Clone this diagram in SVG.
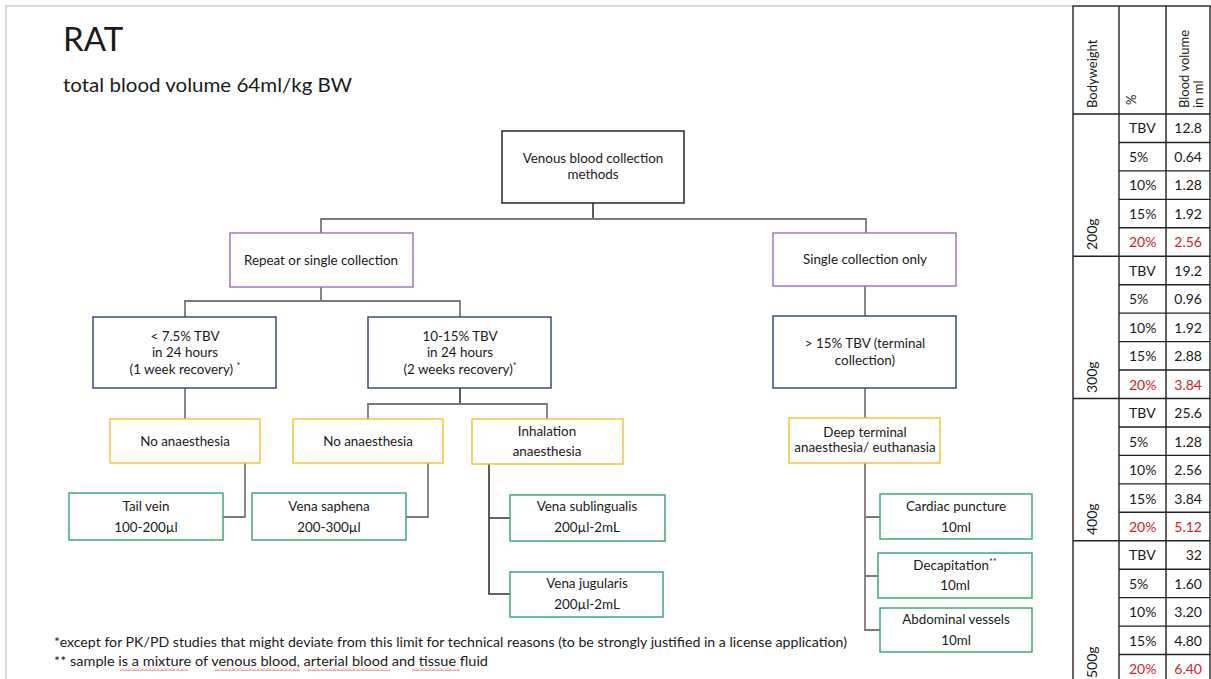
<svg xmlns="http://www.w3.org/2000/svg" width="1211" height="679" viewBox="0 0 1211 679">
<defs>
<style>
text{font-family:Lato,"Open Sans","DejaVu Sans",sans-serif;fill:#1a1a1a}
.n{font-size:13.4px;text-anchor:middle}
.box{fill:#fff;stroke-width:1.4}
.k{stroke:#1a1a1a}
.p{stroke:#9b6cc8}
.b{stroke:#2a3f7a}
.y{stroke:#f5c12e}
.g{stroke:#2ea66a}
.c{fill:none;stroke:#7a7a7a;stroke-width:1.8}
.cd{fill:none;stroke:#333;stroke-width:1.6}
.t{fill:none;stroke:#222;stroke-width:1.4}
.tc{font-size:14px}
.tv{font-size:14px;text-anchor:end}
.red{fill:#d42027}
.h{font-size:13px}
.fn{font-size:13px;font-family:Lato,"Liberation Sans",sans-serif}
.sup{font-size:9px}
</style>
<pattern id="sq" width="4" height="3" patternUnits="userSpaceOnUse">
<path d="M0,2.5 L2,0.5 L4,2.5" fill="none" stroke="#e03030" stroke-width="0.8"/>
</pattern>
</defs>
<rect width="1211" height="679" fill="#fff"/>
<path d="M6,679 V6 H1073" fill="none" stroke="#d0d0d0" stroke-width="1.5"/>

<g id="title">
<text x="63" y="51" style="font-size:33px">RAT</text>
<text x="63" y="92" style="font-size:20px" textLength="289" lengthAdjust="spacingAndGlyphs">total blood volume 64ml/kg BW</text>
</g>

<g id="connectors">
<path class="cd" d="M593,203 V219"/>
<path class="c" d="M321,233 V219 H866 V233"/>
<path class="c" d="M321,287 V301"/>
<path class="c" d="M185,317 V301 H460 V317"/>
<path class="c" d="M865,286 V316"/>
<path class="c" d="M185,388 V419"/>
<path class="cd" d="M460,388 V404"/>
<path class="c" d="M368,419 V404 H547 V419"/>
<path class="c" d="M245,463 V517 H223"/>
<path class="c" d="M428,463 V517 H406"/>
<path class="cd" d="M489,464 V594 H510 M489,518 H510"/>
<path class="c" d="M865,388 V418"/>
<path class="c" d="M865,463 V630 H880 M865,517 H880 M865,576 H878"/>
</g>

<g id="n-venous">
<rect class="box k" x="502" y="131" width="182" height="72"/>
<text class="n" x="593" y="162.5">Venous blood collection</text>
<text class="n" x="593" y="178.5">methods</text>
</g>
<g id="n-repeat">
<rect class="box p" x="230" y="233" width="183" height="54"/>
<text class="n" x="321" y="264.5">Repeat or single collection</text>
</g>
<g id="n-single">
<rect class="box p" x="773" y="233" width="183" height="53"/>
<text class="n" x="865" y="263.5">Single collection only</text>
</g>
<g id="n-lt75">
<rect class="box b" x="93" y="317" width="183" height="71"/>
<text class="n" x="185" y="341">&lt; 7.5% TBV</text>
<text class="n" x="185" y="356.5">in 24 hours</text>
<text class="n" x="185" y="373.5">(1 week recovery) <tspan class="sup" dy="-5">*</tspan></text>
</g>
<g id="n-1015">
<rect class="box b" x="368" y="317" width="183" height="71"/>
<text class="n" x="460" y="341">10-15% TBV</text>
<text class="n" x="460" y="356.5">in 24 hours</text>
<text class="n" x="460" y="373.5">(2 weeks recovery)<tspan class="sup" dy="-5">*</tspan></text>
</g>
<g id="n-gt15">
<rect class="box b" x="773" y="316" width="183" height="72"/>
<text class="n" x="865" y="348">&gt; 15% TBV (terminal</text>
<text class="n" x="865" y="364.5">collection)</text>
</g>
<g id="n-noan1">
<rect class="box y" x="110" y="419" width="150" height="44"/>
<text class="n" x="185" y="446">No anaesthesia</text>
</g>
<g id="n-noan2">
<rect class="box y" x="293" y="419" width="150" height="44"/>
<text class="n" x="368" y="446">No anaesthesia</text>
</g>
<g id="n-inhal">
<rect class="box y" x="472" y="419" width="151" height="45"/>
<text class="n" x="547" y="436">Inhalation</text>
<text class="n" x="547" y="456">anaesthesia</text>
</g>
<g id="n-deep">
<rect class="box y" x="789" y="418" width="151" height="45"/>
<text class="n" x="865" y="437">Deep terminal</text>
<text class="n" x="865" y="452">anaesthesia/ euthanasia</text>
</g>
<g id="n-tail">
<rect class="box g" x="69" y="493" width="154" height="47"/>
<text class="n" x="146" y="510.5">Tail vein</text>
<text class="n" x="146" y="532">100-200µl</text>
</g>
<g id="n-saphena">
<rect class="box g" x="252" y="493" width="154" height="47"/>
<text class="n" x="329" y="510.5">Vena saphena</text>
<text class="n" x="329" y="532">200-300µl</text>
</g>
<g id="n-subling">
<rect class="box g" x="510" y="495" width="155" height="46"/>
<text class="n" x="587" y="511">Vena sublingualis</text>
<text class="n" x="587" y="532">200µl-2mL</text>
</g>
<g id="n-jugul">
<rect class="box g" x="510" y="572" width="153" height="45"/>
<text class="n" x="587" y="588">Vena jugularis</text>
<text class="n" x="587" y="609">200µl-2mL</text>
</g>
<g id="n-cardiac">
<rect class="box g" x="880" y="494" width="152" height="45"/>
<text class="n" x="956" y="510.5">Cardiac puncture</text>
<text class="n" x="956" y="532">10ml</text>
</g>
<g id="n-decap">
<rect class="box g" x="878" y="553" width="154" height="45"/>
<text class="n" x="955" y="569.5">Decapitation<tspan class="sup" dy="-5">**</tspan></text>
<text class="n" x="955" y="589.5">10ml</text>
</g>
<g id="n-abdom">
<rect class="box g" x="880" y="608" width="152" height="44"/>
<text class="n" x="956" y="624">Abdominal vessels</text>
<text class="n" x="956" y="644.5">10ml</text>
</g>

<g id="footnotes">
<text class="fn" x="54" y="647" textLength="793" lengthAdjust="spacingAndGlyphs">*except for PK/PD studies that might deviate from this limit for technical reasons (to be strongly justified in a license application)</text>
<text class="fn" x="54" y="666" textLength="434" lengthAdjust="spacingAndGlyphs">** sample is a mixture of venous blood, arterial blood and tissue fluid</text>
<rect x="120" y="668" width="68" height="3" fill="url(#sq)"/>
<rect x="215" y="668" width="85" height="3" fill="url(#sq)"/>
<rect x="308" y="668" width="82" height="3" fill="url(#sq)"/>
<rect x="412" y="668" width="48" height="3" fill="url(#sq)"/>
</g>

<g id="table">
<rect x="1073" y="6" width="137" height="680" fill="#fff" stroke="#222" stroke-width="1.4"/>
<path class="t" d="M1119,6 V686 M1166,6 V686 M1073,114 H1210 M1073,256.25 H1210 M1073,398.5 H1210 M1073,540.75 H1210"/>
<path class="t" d="M1119,142.45 H1210 M1119,170.9 H1210 M1119,199.35 H1210 M1119,227.8 H1210 M1119,284.7 H1210 M1119,313.15 H1210 M1119,341.6 H1210 M1119,370.05 H1210 M1119,426.95 H1210 M1119,455.4 H1210 M1119,483.85 H1210 M1119,512.3 H1210 M1119,569.2 H1210 M1119,597.65 H1210 M1119,626.1 H1210 M1119,654.55 H1210"/>
<text class="h" transform="translate(1097,108) rotate(-90)">Bodyweight</text>
<text class="h" transform="translate(1136,105) rotate(-90)">%</text>
<text class="h" transform="translate(1189,108) rotate(-90)">Blood volume</text>
<text class="h" transform="translate(1203,108) rotate(-90)">in ml</text>
<text class="tc" transform="translate(1097,250) rotate(-90)">200g</text>
<text class="tc" transform="translate(1097,393) rotate(-90)">300g</text>
<text class="tc" transform="translate(1097,535) rotate(-90)">400g</text>
<text class="tc" transform="translate(1097,678) rotate(-90)">500g</text>
<g class="tc">
<text class="tc" x="1129" y="133">TBV</text><text class="tv" x="1202" y="133">12.8</text>
<text class="tc" x="1129" y="161.5">5%</text><text class="tv" x="1202" y="161.5">0.64</text>
<text class="tc" x="1129" y="190">10%</text><text class="tv" x="1202" y="190">1.28</text>
<text class="tc" x="1129" y="218.5">15%</text><text class="tv" x="1202" y="218.5">1.92</text>
<text class="tc red" x="1129" y="247">20%</text><text class="tv red" x="1202" y="247">2.56</text>
<text class="tc" x="1129" y="275.5">TBV</text><text class="tv" x="1202" y="275.5">19.2</text>
<text class="tc" x="1129" y="304">5%</text><text class="tv" x="1202" y="304">0.96</text>
<text class="tc" x="1129" y="332.5">10%</text><text class="tv" x="1202" y="332.5">1.92</text>
<text class="tc" x="1129" y="361">15%</text><text class="tv" x="1202" y="361">2.88</text>
<text class="tc red" x="1129" y="389.5">20%</text><text class="tv red" x="1202" y="389.5">3.84</text>
<text class="tc" x="1129" y="418">TBV</text><text class="tv" x="1202" y="418">25.6</text>
<text class="tc" x="1129" y="446.5">5%</text><text class="tv" x="1202" y="446.5">1.28</text>
<text class="tc" x="1129" y="475">10%</text><text class="tv" x="1202" y="475">2.56</text>
<text class="tc" x="1129" y="503.5">15%</text><text class="tv" x="1202" y="503.5">3.84</text>
<text class="tc red" x="1129" y="532">20%</text><text class="tv red" x="1202" y="532">5.12</text>
<text class="tc" x="1129" y="560">TBV</text><text class="tv" x="1202" y="560">32</text>
<text class="tc" x="1129" y="588.5">5%</text><text class="tv" x="1202" y="588.5">1.60</text>
<text class="tc" x="1129" y="617">10%</text><text class="tv" x="1202" y="617">3.20</text>
<text class="tc" x="1129" y="645.5">15%</text><text class="tv" x="1202" y="645.5">4.80</text>
<text class="tc red" x="1129" y="674">20%</text><text class="tv red" x="1202" y="674">6.40</text>
</g>
</g>
</svg>
